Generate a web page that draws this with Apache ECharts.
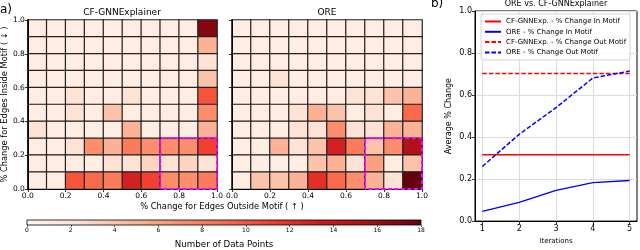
<!DOCTYPE html>
<html>
<head>
<meta charset="utf-8">
<script src="https://cdn.jsdelivr.net/npm/echarts@6/dist/echarts.min.js"></script>
<style>html,body{margin:0;padding:0;background:#fff;}#c{width:640px;height:250px;}</style>
</head>
<body>
<div id="c"></div>
<script>
// ---------- DATA ----------
const bins = ['0','1','2','3','4','5','6','7','8','9'];
// rows listed from top (0.9-1.0) to bottom (0.0-0.1); columns 0.0-0.1 ... 0.9-1.0
const cfCounts = [
  [1,1,1,1,1,1,1,1,1,17],
  [1,1,1,1,1,1,1,1,1,5],
  [1,1,1,1,1,1,1,1,1,2],
  [1,1,1,1,1,1,1,1,1,4],
  [1,1,2,1,1,2,1,1,1,10],
  [1,1,2,1,4,1,1,1,1,7],
  [2,1,1,1,1,5,1,1,1,5],
  [1,1,2,7,5,8,7,7,7,11],
  [1,1,1,1,2,2,3,2,3,2],
  [1,1,10,9,8,13,11,7,7,8]
];
const oreCounts = [
  [1,1,1,1,1,1,1,1,1,1],
  [1,1,1,1,1,1,1,1,1,1],
  [1,1,1,1,1,1,1,1,1,1],
  [1,1,2,1,1,1,1,1,1,1],
  [1,1,1,1,1,1,2,2,4,5],
  [1,1,1,2,5,4,1,2,1,9],
  [1,1,1,2,2,7,2,2,5,5],
  [1,1,5,2,4,13,8,4,7,15],
  [1,1,1,1,4,5,2,6,1,4],
  [1,4,4,5,12,9,7,5,2,18]
];
const motifBoxX = [0.7, 0.7, 1.0, 1.0, 0.7];
const motifBoxY = [0.0, 0.3, 0.3, 0.0, 0.0];
const colorRange = [0, 18];
const redsStops = ['#fff5f0','#fee0d2','#fcbba1','#fc9272','#fb6a4a','#ef3b2c','#cb181d','#a50f15','#67000d'];

const iterations = [1, 2, 3, 4, 5];
const cfIn  = [0.316, 0.316, 0.316, 0.316, 0.316];
const oreIn = [0.046, 0.089, 0.146, 0.183, 0.193];
const cfOut = [0.703, 0.703, 0.703, 0.703, 0.703];
const oreOut = [0.26, 0.413, 0.54, 0.681, 0.714];
const seriesNames = ['CF-GNNExp. - % Change In Motif','ORE - % Change In Motif','CF-GNNExp. - % Change Out Motif','ORE - % Change Out Motif'];

// ---------- BUILD ----------
const FONT = 'DejaVu Sans';
function toCells(m){
  const out = [];
  m.forEach((row, r) => row.forEach((v, c) => out.push([c, 9 - r, v])));
  return out;
}
const box = motifBoxX.map((x, i) => [x, motifBoxY[i]]);
const pair = (xs, ys) => xs.map((x, i) => [x, ys[i]]);

const chart = echarts.init(document.getElementById('c'), null, {renderer: 'canvas'});

const valAxisBase = (grid, showLabel, isY) => ({
  type: 'value', gridIndex: grid, min: 0, max: 1, interval: 0.2,
  position: isY ? 'left' : 'bottom',
  axisLine: {show: true, onZero: false, lineStyle: {color: '#000', width: 1}},
  axisTick: {show: true, length: 3, lineStyle: {color: '#000', width: 0.8}},
  axisLabel: {show: showLabel, fontSize: 7.5, fontFamily: FONT, color: '#000', margin: 3,
              formatter: v => v.toFixed(1)},
  splitLine: {show: false}, z: 5
});

const gradient = new echarts.graphic.LinearGradient(0, 0, 1, 0,
  redsStops.map((c, i) => ({offset: i / (redsStops.length - 1), color: c})));

const option = {
  animation: false,
  textStyle: {fontFamily: FONT},
  title: [
    {text: 'a)', left: 0, top: 4, padding: 0, textStyle: {fontSize: 12, fontWeight: 'normal', color: '#000', fontFamily: FONT}},
    {text: 'CF-GNNExplainer', left: 122, textAlign: 'center', top: 8, padding: 0, textStyle: {fontSize: 9, fontWeight: 'normal', color: '#000', fontFamily: FONT}},
    {text: 'ORE', left: 327, textAlign: 'center', top: 8, padding: 0, textStyle: {fontSize: 9, fontWeight: 'normal', color: '#000', fontFamily: FONT}},
    {text: '% Change for Edges Outside Motif ( ↑ )', left: 222, textAlign: 'center', top: 203, padding: 0, textStyle: {fontSize: 8.3, fontWeight: 'normal', color: '#000', fontFamily: FONT}},
    {text: 'b)', left: 431, top: -2, padding: 0, textStyle: {fontSize: 12, fontWeight: 'normal', color: '#000', fontFamily: FONT}},
    {text: 'ORE vs. CF-GNNExplainer', left: 556, textAlign: 'center', top: 0, padding: 0, textStyle: {fontSize: 8, fontWeight: 'normal', color: '#000', fontFamily: FONT}}
  ],
  grid: [
    {left: 27, top: 20, width: 190, height: 169},
    {left: 232, top: 20, width: 190, height: 169},
    {left: 27, top: 220, width: 394, height: 9},
    {left: 475, top: 11, width: 162, height: 215, show: true, borderColor: '#000', borderWidth: 1, backgroundColor: 'transparent'}
  ],
  xAxis: [
    {type: 'category', gridIndex: 0, data: bins, show: false},
    {type: 'category', gridIndex: 1, data: bins, show: false},
    valAxisBase(0, true, false),
    valAxisBase(1, true, false),
    {type: 'value', gridIndex: 2, min: colorRange[0], max: colorRange[1], interval: 2, position: 'bottom',
     axisLine: {show: false}, axisTick: {show: true, length: 2, lineStyle: {color: '#000', width: 0.6}},
     axisLabel: {fontSize: 6, fontFamily: FONT, color: '#000', margin: 2},
     splitLine: {show: false},
     name: 'Number of Data Points', nameLocation: 'middle', nameGap: 15,
     nameTextStyle: {fontSize: 8.7, fontFamily: FONT, color: '#000'}},
    {type: 'value', gridIndex: 3, min: 0.8, max: 5.2, position: 'bottom',
     axisLine: {show: true, onZero: false, lineStyle: {color: '#000', width: 1}},
     axisTick: {show: true, length: 3, customValues: iterations, lineStyle: {color: '#000', width: 0.8}},
     axisLabel: {fontSize: 8, fontFamily: FONT, color: '#000', margin: 4, customValues: iterations},
     splitLine: {show: true, lineStyle: {color: '#dcdcdc', width: 1}},
     name: 'Iterations', nameLocation: 'middle', nameGap: 15,
     nameTextStyle: {fontSize: 7, fontFamily: FONT, color: '#000'}}
  ],
  yAxis: [
    {type: 'category', gridIndex: 0, data: bins, show: false},
    {type: 'category', gridIndex: 1, data: bins, show: false},
    Object.assign(valAxisBase(0, true, true), {name: '% Change for Edges Inside Motif ( ↓ )', nameLocation: 'middle', nameGap: 17,
      nameTextStyle: {fontSize: 8.3, fontFamily: FONT, color: '#000'}}),
    valAxisBase(1, false, true),
    {type: 'value', gridIndex: 2, min: 0, max: 1, show: false},
    {type: 'value', gridIndex: 3, min: 0, max: 1, interval: 0.2,
     axisLine: {show: true, lineStyle: {color: '#000', width: 1}},
     axisTick: {show: true, length: 3, lineStyle: {color: '#000', width: 0.8}},
     axisLabel: {fontSize: 8, fontFamily: FONT, color: '#000', margin: 3, formatter: v => v.toFixed(1)},
     splitLine: {show: true, lineStyle: {color: '#dcdcdc', width: 1}},
     name: 'Average % Change', nameLocation: 'middle', nameGap: 22,
     nameTextStyle: {fontSize: 8, fontFamily: FONT, color: '#000'}}
  ],
  visualMap: {
    type: 'continuous', show: false, min: colorRange[0], max: colorRange[1], dimension: 2,
    seriesIndex: [0, 1], inRange: {color: redsStops}
  },
  legend: {
    data: seriesNames, orient: 'vertical', left: 481, top: 14,
    itemWidth: 16, itemHeight: 9, itemGap: 1.3,
    itemStyle: {opacity: 0},
    textStyle: {fontSize: 7, fontFamily: FONT, color: '#000', lineHeight: 9},
    backgroundColor: 'rgba(255,255,255,0.85)', borderColor: '#cccccc', borderWidth: 0.8, borderRadius: 2,
    padding: [3, 4, 3, 3]
  },
  series: [
    {type: 'heatmap', xAxisIndex: 0, yAxisIndex: 0, data: toCells(cfCounts),
     itemStyle: {borderColor: '#222', borderWidth: 1.2}, emphasis: {disabled: true}},
    {type: 'heatmap', xAxisIndex: 1, yAxisIndex: 1, data: toCells(oreCounts),
     itemStyle: {borderColor: '#222', borderWidth: 1.2}, emphasis: {disabled: true}},
    {type: 'line', xAxisIndex: 2, yAxisIndex: 2, data: box, symbol: 'none', clip: false, z: 10,
     lineStyle: {color: '#ff00ff', width: 2, type: [4, 2.5]}, silent: true},
    {type: 'line', xAxisIndex: 3, yAxisIndex: 3, data: box, symbol: 'none', clip: false, z: 10,
     lineStyle: {color: '#ff00ff', width: 2, type: [4, 2.5]}, silent: true},
    {type: 'custom', xAxisIndex: 4, yAxisIndex: 4, data: [colorRange], z: 3,
     renderItem: (params, api) => {
       const p0 = api.coord([api.value(0), 0]);
       const p1 = api.coord([api.value(1), 1]);
       return {type: 'rect', shape: {x: p0[0], y: p1[1], width: p1[0] - p0[0], height: p0[1] - p1[1]},
               style: {fill: gradient, stroke: '#000', lineWidth: 0.8}};
     }},
    {name: seriesNames[0], type: 'line', xAxisIndex: 5, yAxisIndex: 5, data: pair(iterations, cfIn), symbol: 'none',
     lineStyle: {color: '#ff0000', width: 1.4}, itemStyle: {color: '#ff0000'}},
    {name: seriesNames[1], type: 'line', xAxisIndex: 5, yAxisIndex: 5, data: pair(iterations, oreIn), symbol: 'none',
     lineStyle: {color: '#0000ff', width: 1.4}, itemStyle: {color: '#0000ff'}},
    {name: seriesNames[2], type: 'line', xAxisIndex: 5, yAxisIndex: 5, data: pair(iterations, cfOut), symbol: 'none',
     lineStyle: {color: '#ff0000', width: 1.5, type: [4.5, 2]}, itemStyle: {color: '#ff0000'}},
    {name: seriesNames[3], type: 'line', xAxisIndex: 5, yAxisIndex: 5, data: pair(iterations, oreOut), symbol: 'none',
     lineStyle: {color: '#0000ff', width: 1.5, type: [4.5, 2]}, itemStyle: {color: '#0000ff'}}
  ]
};
chart.setOption(option);
</script>
</body>
</html>
